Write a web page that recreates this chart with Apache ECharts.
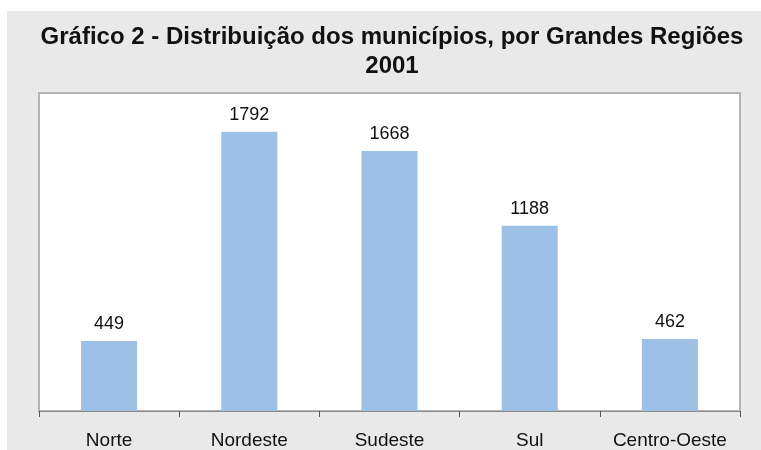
<!DOCTYPE html>
<html>
<head>
<meta charset="utf-8">
<style>
  html, body { margin: 0; padding: 0; background: #fff; }
  #chart { width: 761px; height: 450px; }
</style>
<script src="https://cdn.jsdelivr.net/npm/echarts@6/dist/echarts.min.js"></script>
</head>
<body>
<div id="chart"></div>
<script>
// dados
var regioes = ['Norte', 'Nordeste', 'Sudeste', 'Sul', 'Centro-Oeste']
var municipios = [449, 1792, 1668, 1188, 462]
var titulo = 'Gráfico 2 - Distribuição dos municípios, por Grandes Regiões\n2001'

var chart = echarts.init(document.getElementById('chart'))
chart.setOption({
  animation: false,
  backgroundColor: '#fff',
  graphic: [{
    type: 'rect',
    z: -10,
    silent: true,
    shape: { x: 7, y: 11, width: 761, height: 450 },
    style: { fill: '#e9e9e9' }
  }],
  title: {
    text: titulo,
    left: 387,
    textAlign: 'center',
    top: 18,
    textStyle: {
      fontFamily: 'Liberation Sans Narrow, Liberation Sans, Arial',
      fontWeight: 'bold',
      fontSize: 24,
      lineHeight: 29,
      color: '#111'
    }
  },
  grid: {
    left: 39,
    right: 21,
    top: 93,
    bottom: 39,
    show: true,
    backgroundColor: '#fff',
    borderColor: '#b4b4b4',
    borderWidth: 2
  },
  xAxis: {
    type: 'category',
    data: regioes,
    axisLine: { lineStyle: { color: '#8a8a8a', width: 1 } },
    axisTick: { show: true, interval: 0, length: 6, lineStyle: { color: '#555' } },
    axisLabel: {
      interval: 0,
      margin: 20,
      fontFamily: 'Liberation Sans Narrow, Liberation Sans, Arial',
      fontSize: 19,
      color: '#111'
    }
  },
  yAxis: {
    type: 'value',
    min: 0,
    max: 2040,
    show: false,
    splitLine: { show: false }
  },
  series: [{
    type: 'bar',
    data: municipios,
    barWidth: '40%',
    itemStyle: { color: '#9dc1e6' },
    label: {
      show: true,
      position: 'top',
      distance: 8,
      fontFamily: 'Liberation Sans, Arial',
      fontSize: 18,
      color: '#111'
    }
  }]
})
</script>
</body>
</html>
